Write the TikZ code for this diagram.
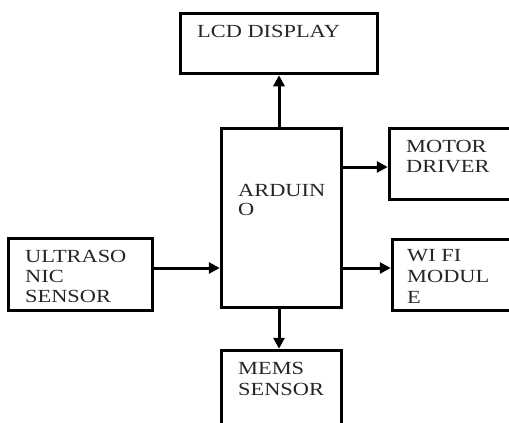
\documentclass[tikz,border=0pt]{standalone}
\usepackage{fontspec}
\newfontfamily\tf[FakeStretch=1.21]{Liberation Serif}
\usetikzlibrary{arrows.meta}
\begin{document}
\begin{tikzpicture}[x=1pt,y=-1pt,
  box/.style={draw=black,line width=3.5pt,inner sep=0pt,outer sep=1.75pt},
  lbl/.style={anchor=base west,inner sep=0pt,text=black!85,font=\tf\fontsize{18.5}{20}\selectfont},
  arr/.style={line width=3pt,-{Triangle[length=11pt,width=11pt]}}]
\useasboundingbox (0,0) rectangle (509,423);
\clip (0,0) rectangle (509,423);
\node[box,minimum width=197pt,minimum height=60pt] (lcd) at (279,43.5) {};
\node[box,minimum width=120pt,minimum height=179pt] (ard) at (281.5,218) {};
\node[box,minimum width=130.5pt,minimum height=71pt] (mot) at (454.75,164) {};
\node[box,minimum width=127.5pt,minimum height=71pt] (wifi) at (456.25,275) {};
\node[box,minimum width=144pt,minimum height=72pt] (ult) at (80.5,274.5) {};
\node[box,minimum width=120pt,minimum height=89.5pt] (mems) at (281.5,395.25) {};
\node[lbl] (t1) at (197,37.5) {LCD DISPLAY};
\node[lbl] (t2) at (238,196) {ARDUIN};
\node[lbl] (t3) at (238,215) {O};
\node[lbl] (t4) at (406,152.5) {MOTOR};
\node[lbl] (t5) at (406,172.7) {DRIVER};
\node[lbl] (t6) at (407,261.5) {WI FI};
\node[lbl] (t7) at (407,282.7) {MODUL};
\node[lbl] (t8) at (407,303.3) {E};
\node[lbl] (t9) at (25,262.7) {ULTRASO};
\node[lbl] (t10) at (25,282.7) {NIC};
\node[lbl] (t11) at (25,302.7) {SENSOR};
\node[lbl] (t12) at (238,374.3) {MEMS};
\node[lbl] (t13) at (238,395.3) {SENSOR};
\draw[arr] (ard.north -| lcd.south) -- (lcd.south);
\draw[arr] (ard.south -| lcd.south) -- (mems.north -| lcd.south);
\draw[arr] ([yshift=-3pt]ard.east |- mot.west) -- ([yshift=-3pt]mot.west);
\draw[arr] ([yshift=7pt]ard.east |- wifi.west) -- ([yshift=7pt]wifi.west);
\draw[arr] ([yshift=6.5pt]ult.east) -- ([yshift=6.5pt]ard.west |- ult.east);
\end{tikzpicture}
\end{document}
